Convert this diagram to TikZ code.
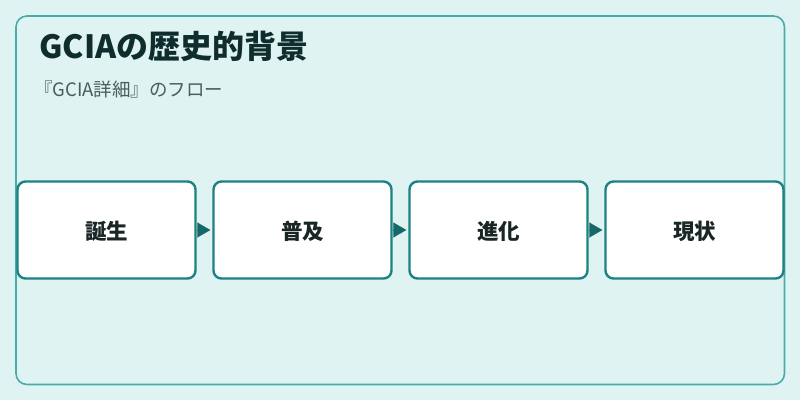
\documentclass[tikz,border=0pt]{standalone}
\usepackage{fontspec}
\setmainfont{Noto Sans CJK JP}
\usetikzlibrary{arrows.meta}
\definecolor{bgc}{HTML}{E0F3F3}
\definecolor{framec}{HTML}{4AABAB}
\definecolor{boxc}{HTML}{1C8282}
\definecolor{arrc}{HTML}{156868}
\definecolor{titlec}{HTML}{0F2D2D}
\definecolor{subc}{HTML}{4A5C5C}
\definecolor{labc}{HTML}{1A2626}
\tikzset{
  stepbox/.style={draw=boxc, line width=2.4pt, fill=white, rounded corners=8pt,
    minimum width=178pt, minimum height=97pt, inner sep=0pt, text depth=-3pt,
    font=\fontsize{21.5pt}{24pt}\selectfont\bfseries, text=labc},
  flow/.style={draw=arrc, line width=0.1pt, -{Triangle[length=13pt,width=15pt,fill=arrc]}, shorten >=2pt}
}
\begin{document}
\begin{tikzpicture}[x=1pt,y=-1pt]
\path[fill=bgc] (0,0) rectangle (800,400);
\useasboundingbox (0,0) rectangle (800,400);
\draw[draw=framec, line width=1.6pt, rounded corners=11pt] (16,16) rectangle (784.5,384.5);
\node[anchor=west, text=titlec, font=\fontsize{32pt}{36pt}\selectfont\bfseries, inner sep=0pt] (title) at (39,46) {GCIAの歴史的背景};
\node[anchor=west, text=subc, font=\fontsize{18.5pt}{22pt}\selectfont, inner sep=0pt] (sub) at (34,89) {『GCIA詳細』のフロー};
\node[stepbox] (b1) at (106.5,230) {誕生};
\node[stepbox] (b2) at (302.5,230) {普及};
\node[stepbox] (b3) at (498.5,230) {進化};
\node[stepbox] (b4) at (694.5,230) {現状};
\draw[flow] (b1.east) -- (b2.west);
\draw[flow] (b2.east) -- (b3.west);
\draw[flow] (b3.east) -- (b4.west);
\end{tikzpicture}
\end{document}
